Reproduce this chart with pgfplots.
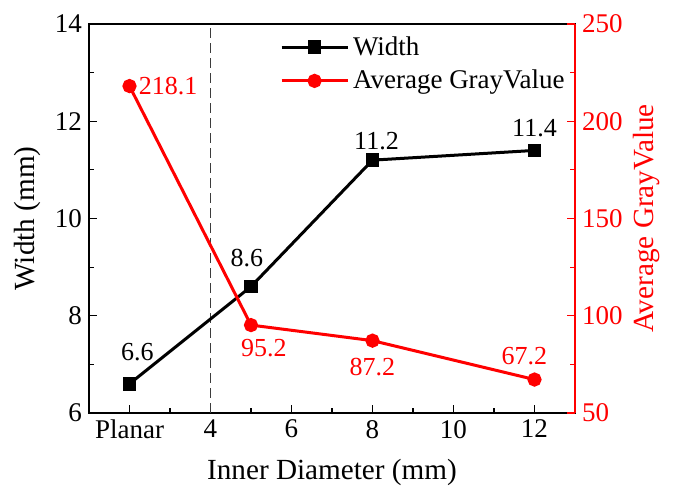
\documentclass[border=0pt]{standalone}
\usepackage{fontspec}
\setmainfont{Liberation Serif}
\usepackage{pgfplots}
\pgfplotsset{compat=1.18}
\definecolor{myred}{RGB}{255,0,0}
\definecolor{dashgray}{RGB}{60,60,60}

\begin{document}
\begin{tikzpicture}
\pgfplotsset{
  every axis/.append style={
    scale only axis, width=243pt, height=194.5pt,
    xmin=1, xmax=13,
    /pgf/number format/assume math mode=true,
    tick label style={font=\fontsize{13.5}{16}\selectfont},
    major tick length=4pt, minor tick length=2.5pt,
    tick align=inside,
    axis line style={line width=0.75pt},
    every tick/.style={line width=0.6pt},
  },
  lbl/.style n args={4}{draw=none, mark=none, forget plot, nodes near coords, point meta=explicit symbolic,
    every node near coord/.append style={font=\fontsize{13}{15}\selectfont, inner sep=0pt, anchor=#1, xshift=#2, yshift=#3, text=#4}},
}
\begin{axis}[
  ymin=6, ymax=14,
  ytick={6,8,10,12,14},
  minor y tick num=1,
  xtick={2,4,6,8,10,12},
  xticklabels={Planar,4,6,8,10,12},
  minor x tick num=1,
  tick pos=left,
  xlabel={Inner Diameter (mm)},
  ylabel={Width (mm)},
  ylabel style={font=\fontsize{14.6}{17}\selectfont},
  xlabel style={font=\fontsize{14.6}{17}\selectfont, yshift=-3pt},
  clip=false,
]
\addplot[dashgray, line width=0.75pt, dash pattern=on 5pt off 2.5pt, forget plot] coordinates {(4,6) (4,14)};
\addplot[black, line width=1.5pt, mark=square*, mark size=2.7pt, mark options={solid}]
  coordinates {(2,6.6) (5,8.6) (8,11.2) (12,11.4)};
\addplot[lbl={south}{4pt}{11.5pt}{black}] coordinates {(2,6.6)[6.6]};
\addplot[lbl={south}{-2pt}{9.5pt}{black}] coordinates {(5,8.6)[8.6]};
\addplot[lbl={south}{2pt}{5pt}{black}] coordinates {(8,11.2)[11.2]};
\addplot[lbl={south}{0pt}{6.5pt}{black}] coordinates {(12,11.4)[11.4]};
\end{axis}
\begin{axis}[
  ymin=50, ymax=250,
  ytick={50,100,150,200,250},
  minor y tick num=1,
  axis y line*=right,
  axis x line=none,
  ylabel={Average GrayValue},
  ylabel style={myred, font=\fontsize{14.6}{17}\selectfont, yshift=1.5pt},
  y axis line style={myred, line width=0.75pt},
  yticklabel style={myred},
  ytick style={myred},
  clip=false,
  legend style={at={(0.38,0.99)}, anchor=north west, draw=none, fill=none,
    font=\fontsize{13.5}{16}\selectfont, row sep=2pt},
  legend cell align=left,
  legend image code/.code={\draw[mark repeat=2,mark phase=2,#1] plot coordinates {(0pt,0pt) (16.5pt,0pt) (33pt,0pt)};},
]
\addlegendimage{black, line width=1.5pt, mark=square*, mark size=2.7pt}
\addlegendentry{Width}
\addplot[myred, line width=1.5pt, mark=*, mark size=2.8pt]
  coordinates {(2,218.1) (5,95.2) (8,87.2) (12,67.2)};
\addlegendentry{Average GrayValue}
\addplot[lbl={west}{4.5pt}{0pt}{myred}] coordinates {(2,218.1)[218.1]};
\addplot[lbl={north}{6.5pt}{-7pt}{myred}] coordinates {(5,95.2)[95.2]};
\addplot[lbl={north}{0pt}{-8.5pt}{myred}] coordinates {(8,87.2)[87.2]};
\addplot[lbl={south}{-5pt}{7pt}{myred}] coordinates {(12,67.2)[67.2]};
\end{axis}
\pgfresetboundingbox
\path[use as bounding box] (-44.5pt,-37.5pt) rectangle (294pt,206.5pt);
\end{tikzpicture}
\end{document}
